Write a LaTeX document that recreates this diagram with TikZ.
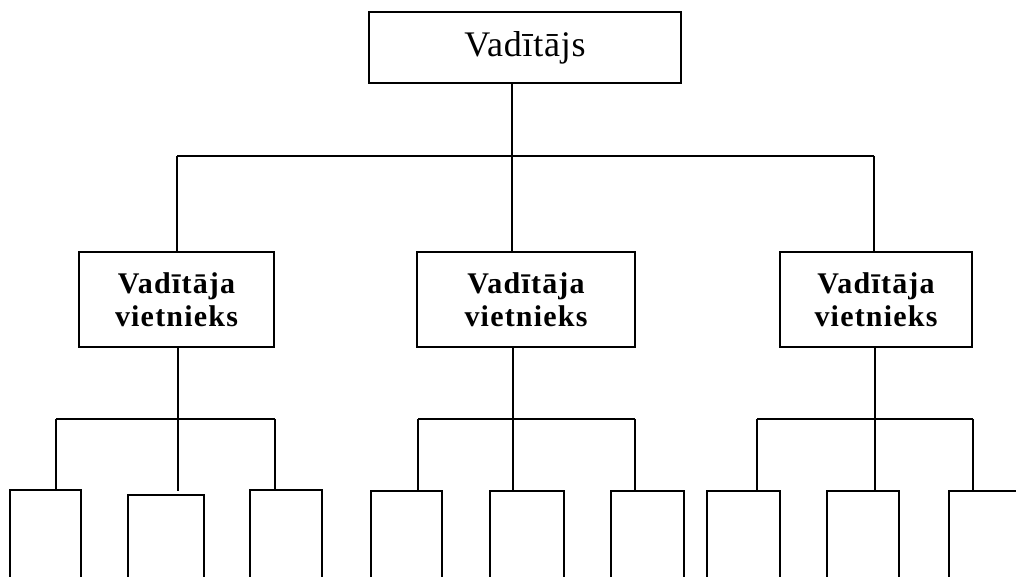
\documentclass[tikz,border=0pt]{standalone}
\usepackage{fontspec}
\setmainfont{Liberation Serif}
\newfontfamily\boldspaced[LetterSpace=4]{Liberation Serif}
\newfontfamily\topspaced[LetterSpace=2]{Liberation Serif}
\begin{document}
\begin{tikzpicture}[x=1pt,y=-1pt,
  conn/.style={draw,line width=1.9pt},
  box/.style={draw,line width=1.9pt,rectangle,inner sep=0pt,outer sep=0pt},
  topbox/.style={box,font=\topspaced\fontsize{36}{40}\selectfont},
  midbox/.style={box,align=center,font=\boldspaced\bfseries\fontsize{30}{33}\selectfont},
  lowbox/.style={box,minimum height=130pt}]
\useasboundingbox (0,0) rectangle (1016,577);
\clip (0,0) rectangle (1016,577);
% top
\node[topbox,minimum width=312pt,minimum height=71pt] (top) at (525,47.5) {Vadītājs};
% middle
\node[midbox,minimum width=195pt,minimum height=95pt] (m1) at (176.5,299.5) {Vadītāja\\vietnieks};
\node[midbox,minimum width=218pt,minimum height=95pt] (m2) at (526,299.5) {Vadītāja\\vietnieks};
\node[midbox,minimum width=192pt,minimum height=95pt] (m3) at (876,299.5) {Vadītāja\\vietnieks};
% bottom boxes (cut off at the lower edge)
\node[lowbox,minimum width=71pt] (b1) at (45.5,555) {};
\node[lowbox,minimum width=76pt,minimum height=125pt] (b2) at (166,557.5) {};
\node[lowbox,minimum width=72pt] (b3) at (286,555) {};
\node[lowbox,minimum width=71pt] (b4) at (406.5,556) {};
\node[lowbox,minimum width=74pt] (b5) at (527,556) {};
\node[lowbox,minimum width=73pt] (b6) at (647.5,556) {};
\node[lowbox,minimum width=73pt] (b7) at (743.5,556) {};
\node[lowbox,minimum width=72pt] (b8) at (863,556) {};
\node[lowbox,minimum width=131pt] (b9) at (1014.5,556) {};
% connectors top level
\coordinate (h0) at (512,156);
\coordinate (hL) at (177,156);
\coordinate (hR) at (874,156);
\draw[conn] (h0 |- top.south) -- (h0);
\draw[conn] (hL) -- (hR);
\draw[conn] (hL) -- (hL |- m1.north);
\draw[conn] (h0) -- (h0 |- m2.north);
\draw[conn] (hR) -- (hR |- m3.north);
% group 1
\coordinate (g1) at (178,419);
\coordinate (g1a) at (56,419);
\coordinate (g1c) at (275,419);
\coordinate (g1e) at (178,491);
\draw[conn] (g1 |- m1.south) -- (g1);
\draw[conn] (g1a) -- (g1c);
\draw[conn] (g1a) -- (g1a |- b1.north);
\draw[conn] (g1) -- (g1e);
\draw[conn] (g1c) -- (g1c |- b3.north);
% group 2
\coordinate (g2) at (513,419);
\coordinate (g2a) at (418,419);
\coordinate (g2c) at (635,419);
\draw[conn] (g2 |- m2.south) -- (g2);
\draw[conn] (g2a) -- (g2c);
\draw[conn] (g2a) -- (g2a |- b4.north);
\draw[conn] (g2) -- (g2 |- b5.north);
\draw[conn] (g2c) -- (g2c |- b6.north);
% group 3
\coordinate (g3) at (875,419);
\coordinate (g3a) at (757,419);
\coordinate (g3c) at (973,419);
\draw[conn] (g3 |- m3.south) -- (g3);
\draw[conn] (g3a) -- (g3c);
\draw[conn] (g3a) -- (g3a |- b7.north);
\draw[conn] (g3) -- (g3 |- b8.north);
\draw[conn] (g3c) -- (g3c |- b9.north);
\end{tikzpicture}
\end{document}
